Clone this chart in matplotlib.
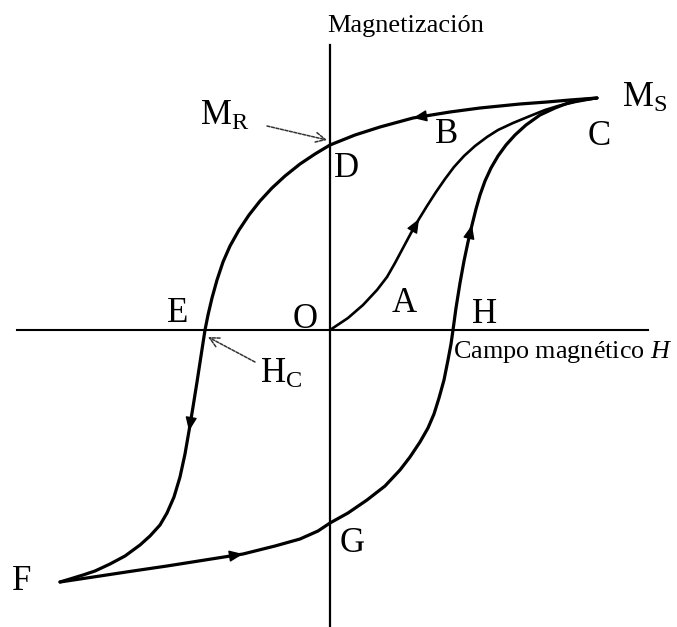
import numpy as np
import matplotlib
matplotlib.use("Agg")
import matplotlib.pyplot as plt

plt.rcParams['font.family'] = ['Liberation Serif', 'DejaVu Serif']
plt.rcParams['mathtext.fontset'] = 'custom'
plt.rcParams['mathtext.rm'] = 'Liberation Serif'
plt.rcParams['mathtext.it'] = 'Liberation Serif:italic'

# curva inicial O -> A -> B -> C (campo H, magnetizacion M)
init_h = [0, 18, 33, 47, 57, 65, 73, 81, 89, 97, 106, 115, 124, 134, 145, 157, 168, 183, 200, 215, 228, 245, 267]
init_m = [0, 12, 25, 40, 53, 67, 82, 97, 111, 124, 138, 151, 163, 174, 184, 193, 200, 207, 214, 220, 224, 228, 232]

# rama descendente C -> D -> E -> F
down_h = [267, 240, 217, 190, 150, 120, 83, 50, 25, 0, -15, -30, -45, -58, -70, -81, -91, -100, -107, -113, -118, -122,
          -125, -129, -133, -137, -141, -145, -150, -156, -163, -170, -180, -190, -205, -220, -235, -247, -260, -270]
down_m = [232, 230, 228, 226, 222, 218, 212, 203, 195, 185, 176, 166, 154, 142, 129, 115, 100, 84, 68, 50, 32, 15,
          0, -26, -52, -77, -101, -124, -147, -167, -183, -195, -206, -215, -226, -234, -241, -245, -249, -252]

# rama ascendente F -> G -> H -> C
up_h = [-270, -250, -230, -197, -163, -125, -87, -55, -30, -12, 0, 18, 37, 55, 70, 80, 90, 98, 104, 109, 114, 118, 121,
        123, 126, 130, 134, 138, 142, 146, 150, 155, 161, 168, 176, 185, 196, 210, 225, 238, 250, 267]
up_m = [-252, -249, -246, -241, -236, -230, -224, -216, -209, -201, -193, -183, -170, -156, -140, -127, -112, -98, -84, -68, -50, -30, -14,
        0, 22, 47, 69, 88, 105, 121, 135, 149, 162, 174, 185, 195, 205, 215, 222, 227, 230, 232]

# (rama, indice de la punta de flecha)
arrow_marks = [('init', 8), ('down', 6), ('down', 26), ('up', 6), ('up', 28)]

fig = plt.figure(figsize=(6.77, 6.27), dpi=100)
ax = fig.add_axes([0, 0, 1, 1])
ax.set_xlim(-330, 347)
ax.set_ylim(-297, 330)
ax.axis('off')

# ejes
ax.plot([0, 0], [285, -297], color='black', lw=1.6)
ax.plot([-313, 318], [0, 0], color='black', lw=1.5)

branches = {'init': (init_h, init_m), 'down': (down_h, down_m), 'up': (up_h, up_m)}
for name, (h, m) in branches.items():
    lw = 1.9 if name == 'init' else 2.3
    ax.plot(h, m, color='black', lw=lw, solid_capstyle='round', solid_joinstyle='round')

for name, i in arrow_marks:
    h, m = branches[name]
    ax.annotate('', xy=(h[i], m[i]), xytext=(h[i - 1], m[i - 1]),
                arrowprops=dict(arrowstyle='-|>,head_length=0.6,head_width=0.25', color='black',
                                lw=1, shrinkA=0, shrinkB=0, mutation_scale=14))

# flechas punteadas MR y HC
ax.annotate('', xy=(-3, 190), xytext=(-63, 204),
            arrowprops=dict(arrowstyle='->,head_length=0.5,head_width=0.25', color='#333333',
                            lw=1.1, ls=(0, (2, 1)), shrinkA=0, shrinkB=0, mutation_scale=14))
ax.annotate('', xy=(-122, -7), xytext=(-75, -32),
            arrowprops=dict(arrowstyle='->,head_length=0.5,head_width=0.25', color='#333333',
                            lw=1.1, ls=(0, (2, 1)), shrinkA=0, shrinkB=0, mutation_scale=14))

big = 25
ax.text(-130, 205, r'$\mathrm{M}_{\mathrm{R}}$', fontsize=big, va='baseline')
ax.text(292, 223, r'$\mathrm{M}_{\mathrm{S}}$', fontsize=big, va='baseline')
ax.text(-70, -53, r'$\mathrm{H}_{\mathrm{C}}$', fontsize=big, va='baseline')
labels = [('D', 4, 153), ('B', 105, 187), ('C', 258, 185), ('E', -163, 8), ('O', -37, 2),
          ('A', 62, 18), ('H', 142, 7), ('F', -318, -260), ('G', 10, -222)]
for s, x, y in labels:
    ax.text(x, y, s, fontsize=big, va='baseline')

ax.text(-3, 298, 'Magnetización', fontsize=19, va='baseline')
ax.text(123, -28, r'Campo magnético $\mathit{H}$', fontsize=18.8, va='baseline')

fig.savefig('out.png', dpi=100)
